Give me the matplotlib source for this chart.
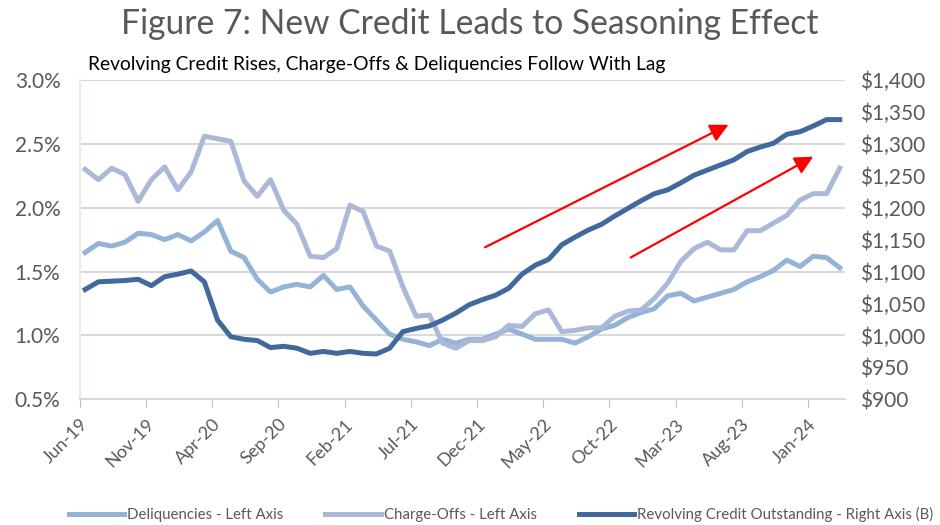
import matplotlib
matplotlib.use("Agg")
import matplotlib.pyplot as plt
from matplotlib.ticker import FuncFormatter, MultipleLocator
import numpy as np

plt.rcParams["font.family"] = ["Lato", "DejaVu Sans"]

# monthly, Jun-19 .. Mar-24
tick_labels = ["Jun-19", "Nov-19", "Apr-20", "Sep-20", "Feb-21", "Jul-21",
               "Dec-21", "May-22", "Oct-22", "Mar-23", "Aug-23", "Jan-24"]

charge_offs = [
    2.30, 2.22, 2.31, 2.26, 2.05, 2.22, 2.32, 2.14, 2.28, 2.56,
    2.54, 2.52, 2.21, 2.09, 2.22, 1.98, 1.87, 1.62, 1.61, 1.68,
    2.02, 1.97, 1.70, 1.66, 1.38, 1.15, 1.16, 0.94, 0.90, 0.96,
    0.96, 0.99, 1.08, 1.07, 1.17, 1.20, 1.03, 1.04, 1.06, 1.06,
    1.15, 1.19, 1.20, 1.29, 1.41, 1.58, 1.68, 1.73, 1.67, 1.67,
    1.82, 1.82, 1.88, 1.94, 2.06, 2.11, 2.11, 2.31,
]
deliquencies = [
    1.65, 1.72, 1.70, 1.73, 1.80, 1.79, 1.75, 1.79, 1.74, 1.81,
    1.90, 1.66, 1.61, 1.44, 1.34, 1.38, 1.40, 1.38, 1.47, 1.36,
    1.38, 1.23, 1.12, 1.01, 0.97, 0.95, 0.92, 0.97, 0.94, 0.97,
    0.97, 1.01, 1.05, 1.01, 0.97, 0.97, 0.97, 0.94, 0.99, 1.05,
    1.08, 1.14, 1.18, 1.21, 1.31, 1.33, 1.27, 1.30, 1.33, 1.36,
    1.42, 1.46, 1.51, 1.59, 1.54, 1.62, 1.61, 1.53,
]
revolving = [
    1072, 1084, 1085, 1086, 1088, 1078, 1092, 1096, 1101, 1084,
    1024, 998, 994, 992, 981, 983, 980, 972, 975, 972,
    975, 972, 971, 980, 1006, 1011, 1015, 1024, 1035, 1048,
    1056, 1063, 1074, 1096, 1110, 1119, 1142, 1154, 1165, 1174,
    1187, 1199, 1211, 1222, 1228, 1239, 1251, 1259, 1267, 1275,
    1288, 1295, 1301, 1315, 1319, 1328, 1338, 1338,
]

# trend arrows (month index, left-axis %)
arrow_credit = ((30.6, 1.69), (49.0, 2.65))
arrow_losses = ((41.6, 1.61), (55.4, 2.40))

c_deliq = "#95B3D7"
c_charge = "#AAB9D7"
c_revolv = "#41699D"
grey = "#595959"

x = np.arange(len(revolving)) + 0.4

fig = plt.figure(figsize=(9.4, 5.25), dpi=100)
ax = fig.add_axes([0.085, 0.2394, 0.814, 0.6082])
ax2 = ax.twinx()

l1, = ax.plot(x, deliquencies, color=c_deliq, lw=3.6, solid_joinstyle="round",
              label="Deliquencies - Left Axis", zorder=3)
l2, = ax.plot(x, charge_offs, color=c_charge, lw=3.6, solid_joinstyle="round",
              label="Charge-Offs - Left Axis", zorder=3)
l3, = ax2.plot(x, revolving, color=c_revolv, lw=3.6, solid_joinstyle="round",
               label="Revolving Credit Outstanding - Right Axis (B)", zorder=3)

for start, end in (arrow_credit, arrow_losses):
    ax2.annotate("", xy=end, xytext=start,
                 xycoords=ax.transData, textcoords=ax.transData,
                 arrowprops=dict(arrowstyle="-|>,head_length=1.1,head_width=0.55",
                                 color="red", lw=1.6, shrinkA=0, shrinkB=0),
                 zorder=5)

ax.set_xlim(0, 57.8)
ax.set_ylim(0.5, 3.0)
ax2.set_ylim(900, 1400)
ax.yaxis.set_major_locator(MultipleLocator(0.5))
ax2.yaxis.set_major_locator(MultipleLocator(50))
ax.yaxis.set_major_formatter(FuncFormatter(lambda v, p: f"{v:.1f}%"))
ax2.yaxis.set_major_formatter(FuncFormatter(lambda v, p: f"${v:,.0f}"))

ax.set_xticks(np.arange(len(tick_labels)) * 5)
ax.set_xticklabels(tick_labels, rotation=45, ha="right", rotation_mode="anchor",
                   fontsize=13, color=grey)
ax.tick_params(axis="x", length=6, color="#BFBFBF", pad=6)
ax.tick_params(axis="y", length=0, labelsize=15, labelcolor=grey, pad=14)
ax2.tick_params(axis="y", length=0, labelsize=15, labelcolor=grey, pad=11)

ax.grid(axis="y", color="#D9D9D9", lw=1.5)
ax.set_axisbelow(True)
for a in (ax, ax2):
    for s in ("top", "right", "left", "bottom"):
        a.spines[s].set_visible(False)
ax.spines["left"].set_visible(True)
ax.spines["left"].set_color("#EEEBE0")
ax.spines["left"].set_linewidth(1.5)
ax.spines["bottom"].set_visible(True)
ax.spines["bottom"].set_color("#D9D9D9")
ax.spines["bottom"].set_linewidth(1.5)

fig.text(0.5, 0.955, "Figure 7: New Credit Leads to Seasoning Effect",
         ha="center", va="center", fontsize=24.2, color=grey)
fig.text(0.094, 0.878, "Revolving Credit Rises, Charge-Offs & Deliquencies Follow With Lag",
         ha="left", va="center", fontsize=13.9, color="black")

fig.legend(handles=[l1, l2, l3], loc="center", bbox_to_anchor=(0.533, 0.02),
           ncol=3, frameon=False, fontsize=10.8, labelcolor=grey,
           handlelength=3.7, columnspacing=2.8, handletextpad=0.2)

fig.savefig("out.png", dpi=100)
